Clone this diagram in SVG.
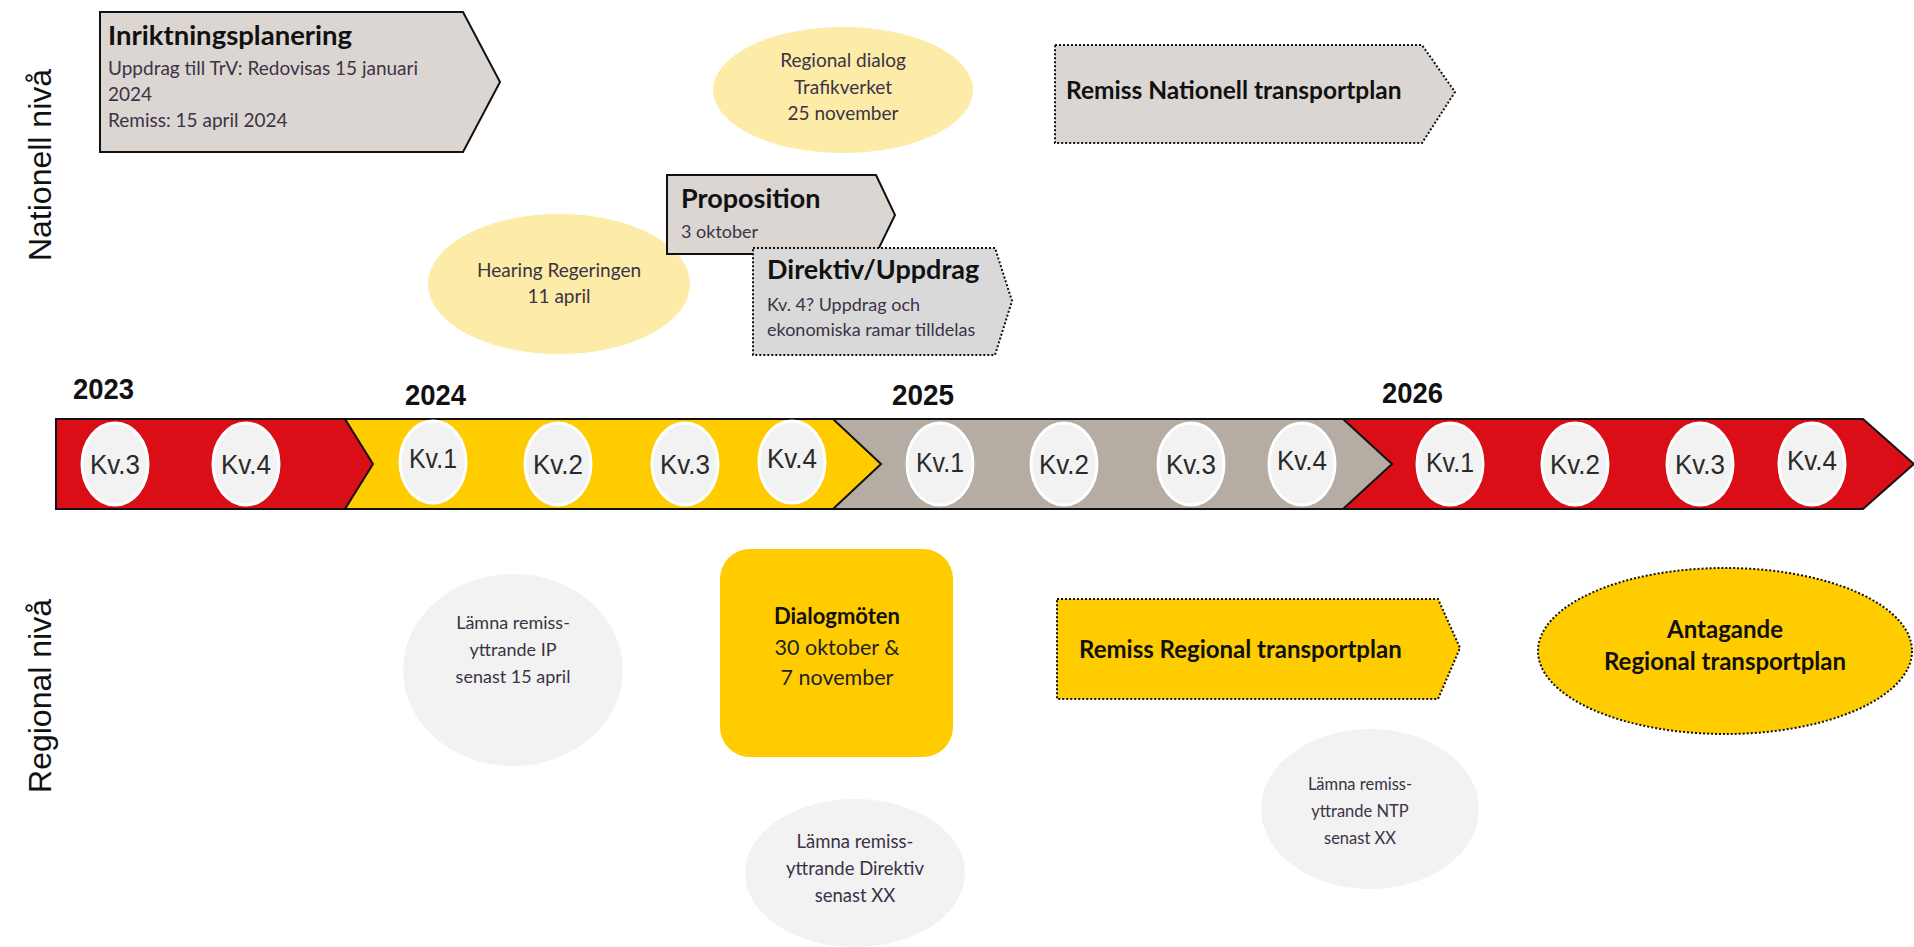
<svg xmlns="http://www.w3.org/2000/svg" width="1914" height="947" viewBox="0 0 1914 947">
<style>
.chev{fill:#dbd6d2;stroke:#111;stroke-width:2}
.dot{stroke-dasharray:2 2;stroke-width:2}
.ttl{font-family:Lato,"Open Sans",sans-serif;font-weight:bold;fill:#111}
.bd{font-family:Lato,"Open Sans",sans-serif;fill:#3b3346}
.ylw{fill:#fdeba8}
.gry{fill:#f2f2f2}
.kv{fill:#f2f2f2;stroke:#fff;stroke-width:3}
.kvt{font-family:"Liberation Sans Narrow","Liberation Sans",sans-serif;font-size:28px;fill:#2a2a2a;text-anchor:middle}
.yr{font-family:"Liberation Sans Narrow","Liberation Sans",sans-serif;font-size:30px;font-weight:bold;fill:#111}
.side{font-family:"Liberation Sans",Arial,sans-serif;font-size:32px;fill:#111;text-anchor:middle}
.c{text-anchor:middle}
</style>
<rect width="1914" height="947" fill="#fff"/>
<g id="side-labels">
<text class="side" transform="rotate(-90 51 165)" x="51" y="165">Nationell nivå</text>
<text class="side" transform="rotate(-90 51 696)" x="51" y="696">Regional nivå</text>
</g>
<g id="connectors"/>
<g id="years">
<text class="yr" x="73" y="399" textLength="61" lengthAdjust="spacingAndGlyphs">2023</text>
<text class="yr" x="405" y="405" textLength="61" lengthAdjust="spacingAndGlyphs">2024</text>
<text class="yr" x="892" y="405" textLength="62" lengthAdjust="spacingAndGlyphs">2025</text>
<text class="yr" x="1382" y="403" textLength="61" lengthAdjust="spacingAndGlyphs">2026</text>
</g>
<g id="timeline">
<polygon points="1343,419 1863,419 1914,464 1863,509 1343,509" fill="#d90e17" stroke="#111" stroke-width="2"/>
<polygon points="833,419 1343,419 1392,464 1343,509 833,509" fill="#b5aca3" stroke="#111" stroke-width="2"/>
<polygon points="345,419 833,419 881,464 833,509 345,509" fill="#ffcc00" stroke="#111" stroke-width="2"/>
<polygon points="56,419 345,419 373,464 345,509 56,509" fill="#d90e17" stroke="#111" stroke-width="2"/>
</g>
<g id="quarters">
<ellipse class="kv" cx="115" cy="464" rx="33" ry="41"/><text class="kvt" x="115" y="474" textLength="50" lengthAdjust="spacingAndGlyphs">Kv.3</text>
<ellipse class="kv" cx="246" cy="464" rx="33" ry="41"/><text class="kvt" x="246" y="474" textLength="50" lengthAdjust="spacingAndGlyphs">Kv.4</text>
<ellipse class="kv" cx="433" cy="462" rx="33" ry="41"/><text class="kvt" x="433" y="468" textLength="48" lengthAdjust="spacingAndGlyphs">Kv.1</text>
<ellipse class="kv" cx="558" cy="464" rx="33" ry="41"/><text class="kvt" x="558" y="474" textLength="50" lengthAdjust="spacingAndGlyphs">Kv.2</text>
<ellipse class="kv" cx="685" cy="464" rx="33" ry="41"/><text class="kvt" x="685" y="474" textLength="50" lengthAdjust="spacingAndGlyphs">Kv.3</text>
<ellipse class="kv" cx="792" cy="462" rx="33" ry="41"/><text class="kvt" x="792" y="468" textLength="50" lengthAdjust="spacingAndGlyphs">Kv.4</text>
<ellipse class="kv" cx="940" cy="464" rx="33" ry="41"/><text class="kvt" x="940" y="472" textLength="48" lengthAdjust="spacingAndGlyphs">Kv.1</text>
<ellipse class="kv" cx="1064" cy="464" rx="33" ry="41"/><text class="kvt" x="1064" y="474" textLength="50" lengthAdjust="spacingAndGlyphs">Kv.2</text>
<ellipse class="kv" cx="1191" cy="464" rx="33" ry="41"/><text class="kvt" x="1191" y="474" textLength="50" lengthAdjust="spacingAndGlyphs">Kv.3</text>
<ellipse class="kv" cx="1302" cy="464" rx="33" ry="41"/><text class="kvt" x="1302" y="470" textLength="50" lengthAdjust="spacingAndGlyphs">Kv.4</text>
<ellipse class="kv" cx="1450" cy="464" rx="33" ry="41"/><text class="kvt" x="1450" y="472" textLength="48" lengthAdjust="spacingAndGlyphs">Kv.1</text>
<ellipse class="kv" cx="1575" cy="464" rx="33" ry="41"/><text class="kvt" x="1575" y="474" textLength="50" lengthAdjust="spacingAndGlyphs">Kv.2</text>
<ellipse class="kv" cx="1700" cy="464" rx="33" ry="41"/><text class="kvt" x="1700" y="474" textLength="50" lengthAdjust="spacingAndGlyphs">Kv.3</text>
<ellipse class="kv" cx="1812" cy="464" rx="33" ry="41"/><text class="kvt" x="1812" y="470" textLength="50" lengthAdjust="spacingAndGlyphs">Kv.4</text>
</g>
<g id="inriktningsplanering">
<polygon class="chev" points="100,12 463,12 500,82 463,152 100,152"/>
<text class="ttl" x="108" y="45" font-size="27.5">Inriktningsplanering</text>
<text class="bd" x="108" y="75" font-size="19">Uppdrag till TrV: Redovisas 15 januari</text>
<text class="bd" x="108" y="101" font-size="19">2024</text>
<text class="bd" x="108" y="127" font-size="19">Remiss: 15 april 2024</text>
</g>
<g id="regional-dialog">
<ellipse class="ylw" cx="843" cy="90" rx="130" ry="63"/>
<text class="bd c" x="843" y="67" font-size="19">Regional dialog</text>
<text class="bd c" x="843" y="94" font-size="19">Trafikverket</text>
<text class="bd c" x="843" y="120" font-size="19">25 november</text>
</g>
<g id="remiss-nationell">
<polygon class="chev dot" points="1055,45 1422,45 1455,92 1422,143 1055,143"/>
<text class="ttl" x="1066" y="99" font-size="24.5">Remiss Nationell transportplan</text>
</g>
<g id="hearing">
<ellipse class="ylw" cx="559" cy="284" rx="131" ry="70"/>
<text class="bd c" x="559" y="277" font-size="19">Hearing Regeringen</text>
<text class="bd c" x="559" y="303" font-size="19">11 april</text>
</g>
<g id="proposition">
<polygon class="chev" points="667,175 876,175 895,215 876,254 667,254"/>
<text class="ttl" x="681" y="208" font-size="27">Proposition</text>
<text class="bd" x="681" y="238" font-size="18">3 oktober</text>
</g>
<g id="direktiv">
<polygon class="chev dot" style="fill:#d9d9d9" points="753,248 995,248 1012,301 995,355 753,355"/>
<text class="ttl" x="767" y="279" font-size="27">Direktiv/Uppdrag</text>
<text class="bd" x="767" y="311" font-size="18">Kv. 4? Uppdrag och</text>
<text class="bd" x="767" y="336" font-size="18">ekonomiska ramar tilldelas</text>
</g>
<g id="lamna-ip">
<ellipse class="gry" cx="513" cy="670" rx="110" ry="96"/>
<text class="bd c" x="513" y="629" font-size="18">Lämna remiss-</text>
<text class="bd c" x="513" y="656" font-size="18">yttrande IP</text>
<text class="bd c" x="513" y="683" font-size="18">senast 15 april</text>
</g>
<g id="dialogmoten">
<rect x="720" y="549" width="233" height="208" rx="30" fill="#ffcc00"/>
<text class="ttl c" x="837" y="624" font-size="22">Dialogmöten</text>
<text class="bd c" x="837" y="655" font-size="21.5" style="fill:#222">30 oktober &amp;</text>
<text class="bd c" x="837" y="685" font-size="21.5" style="fill:#222">7 november</text>
</g>
<g id="lamna-direktiv">
<ellipse class="gry" cx="855" cy="873" rx="110" ry="74"/>
<text class="bd c" x="855" y="848" font-size="18.5">Lämna remiss-</text>
<text class="bd c" x="855" y="875" font-size="18.5">yttrande Direktiv</text>
<text class="bd c" x="855" y="902" font-size="18.5">senast XX</text>
</g>
<g id="remiss-regional">
<polygon class="chev dot" style="fill:#ffcc00" points="1057,599 1438,599 1460,648 1438,699 1057,699"/>
<text class="ttl" x="1079" y="658" font-size="24">Remiss Regional transportplan</text>
</g>
<g id="antagande">
<ellipse class="dot" cx="1725" cy="651" rx="187" ry="83" fill="#ffcc00" stroke="#111"/>
<text class="ttl c" x="1725" y="638" font-size="24">Antagande</text>
<text class="ttl c" x="1725" y="670" font-size="24">Regional transportplan</text>
</g>
<g id="lamna-ntp">
<ellipse class="gry" cx="1370" cy="809" rx="109" ry="80"/>
<text class="bd c" x="1360" y="790" font-size="16.5">Lämna remiss-</text>
<text class="bd c" x="1360" y="817" font-size="16.5">yttrande NTP</text>
<text class="bd c" x="1360" y="844" font-size="16.5">senast XX</text>
</g>
</svg>
